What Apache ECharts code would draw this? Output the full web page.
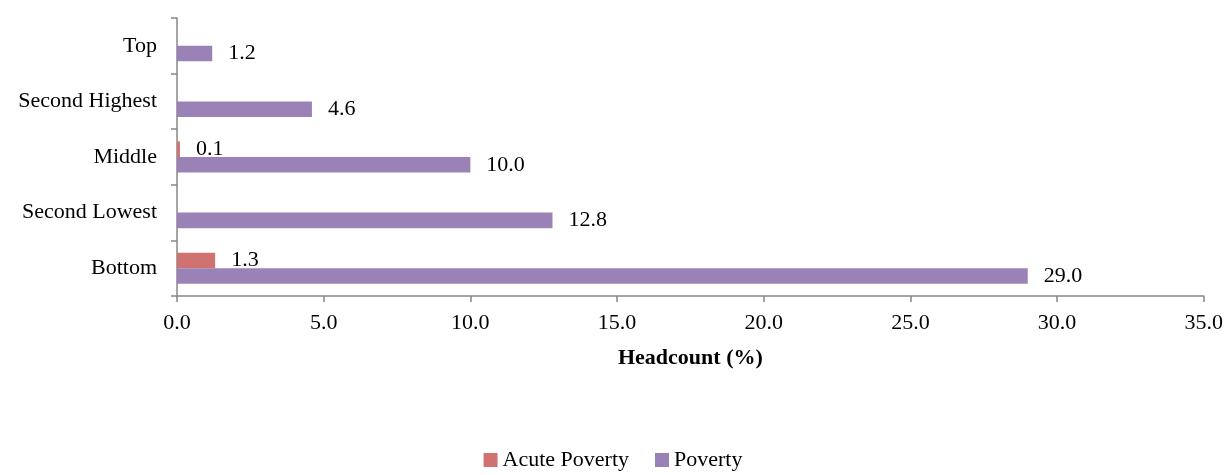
<!DOCTYPE html>
<html>
<head>
<meta charset="utf-8">
<script src="https://cdn.jsdelivr.net/npm/echarts@6/dist/echarts.min.js"></script>
<style>
  html, body { margin: 0; padding: 0; background: #fff; }
  #chart { width: 1226px; height: 475px; }
</style>
</head>
<body>
<div id="chart"></div>
<script>
// categories, bottom to top
var categories = ['Bottom', 'Second Lowest', 'Middle', 'Second Highest', 'Top'];
var acutePoverty = [1.3, null, 0.1, null, null];
var poverty = [29.0, 12.8, 10.0, 4.6, 1.2];
var xTicks = [0, 5, 10, 15, 20, 25, 30, 35];

var serif = '"Liberation Serif", "DejaVu Serif", serif';
var axisGray = '#878787';
var fs = 22;

var chart = echarts.init(document.getElementById('chart'));

function barLabel() {
  return {
    show: true,
    position: 'right',
    distance: 16,
    color: '#000',
    fontFamily: serif,
    fontSize: fs,
    formatter: function (p) { return p.value == null ? '' : p.value.toFixed(1); }
  };
}

chart.setOption({
  animation: false,
  textStyle: { fontFamily: serif },
  grid: { left: 177, right: 22, top: 18, bottom: 179 },
  legend: {
    bottom: -1,
    left: 'center',
    itemWidth: 14,
    itemHeight: 14,
    itemGap: 26,
    icon: 'rect',
    textStyle: { fontFamily: serif, fontSize: fs, color: '#000' },
    data: ['Acute Poverty', 'Poverty']
  },
  xAxis: {
    type: 'value',
    min: xTicks[0],
    max: xTicks[xTicks.length - 1],
    interval: 5,
    name: 'Headcount (%)',
    nameLocation: 'middle',
    nameGap: 51,
    nameTextStyle: { fontFamily: serif, fontSize: fs, fontWeight: 'bold', color: '#000' },
    axisLine: { show: true, lineStyle: { color: axisGray, width: 1.5 } },
    axisTick: { show: true, length: 6, lineStyle: { color: axisGray, width: 1.5 } },
    axisLabel: {
      margin: 16,
      fontFamily: serif, fontSize: fs, color: '#000',
      formatter: function (v) { return v.toFixed(1); }
    },
    splitLine: { show: false }
  },
  yAxis: {
    type: 'category',
    data: categories,
    axisLine: { show: true, lineStyle: { color: axisGray, width: 1.5 } },
    axisTick: { show: true, length: 6, lineStyle: { color: axisGray, width: 1.5 } },
    axisLabel: { margin: 20, fontFamily: serif, fontSize: fs, color: '#000' },
    splitLine: { show: false }
  },
  series: [
    {
      name: 'Acute Poverty',
      type: 'bar',
      data: acutePoverty,
      itemStyle: { color: '#D07370' },
      barGap: '0%',
      barCategoryGap: '44%',
      label: barLabel()
    },
    {
      name: 'Poverty',
      type: 'bar',
      data: poverty,
      itemStyle: { color: '#9A82B6' },
      barGap: '0%',
      barCategoryGap: '44%',
      label: barLabel()
    }
  ]
});
</script>
</body>
</html>
